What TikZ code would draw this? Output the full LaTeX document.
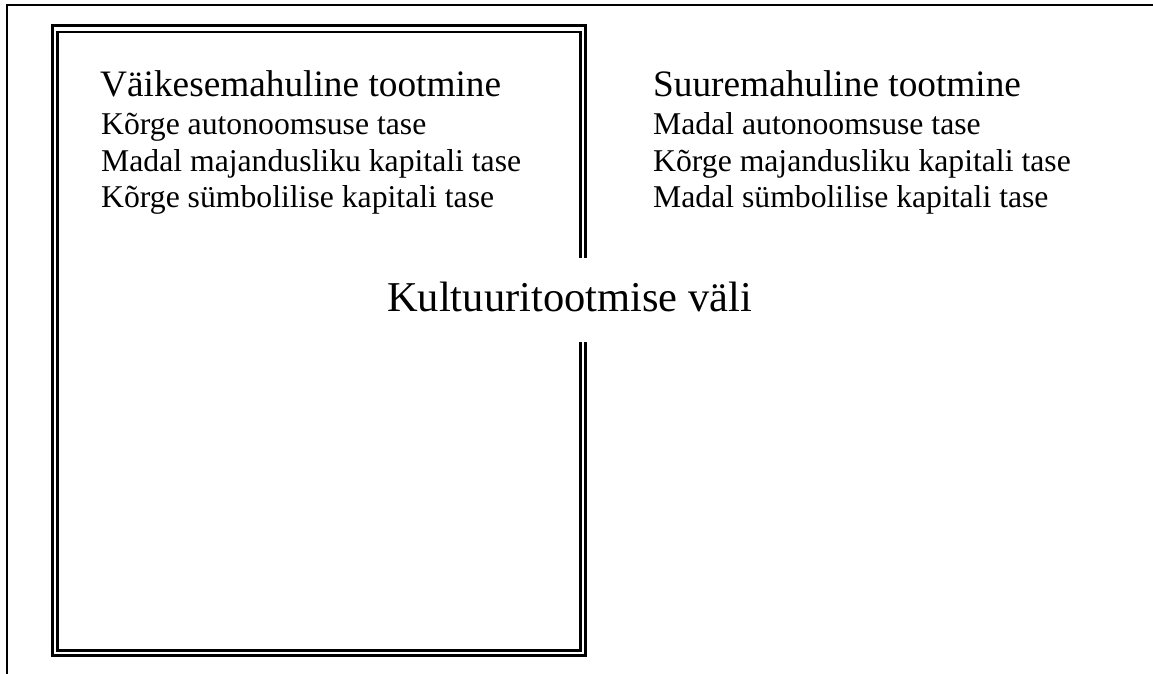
\documentclass[tikz,border=0pt]{standalone}
\usepackage{fontspec}
\setmainfont{Liberation Serif}
\begin{document}
\begin{tikzpicture}[x=1pt,y=-1pt,
  framel/.style={line width=2pt,line cap=rect},
  outerdbl/.style={line width=3pt},
  innerdbl/.style={line width=2.5pt},
  heading/.style={anchor=base west,inner sep=0pt,font=\fontsize{37.3}{40}\selectfont},
  bodyline/.style={anchor=base west,inner sep=0pt,font=\fontsize{31.7}{36}\selectfont},
  centrelabel/.style={anchor=base west,inner sep=0pt,fill=white,text height=53pt,text depth=31pt,font=\fontsize{42.5}{46}\selectfont}]
\useasboundingbox (0,0) rectangle (1153,674);
% outer page frame (left and top only visible)
\coordinate (fbl) at (7,676);
\coordinate (ftl) at (7,5);
\coordinate (ftr) at (1155,5);
\draw[framel] (fbl) -- (ftl) -- (ftr);
% double frame
\coordinate (o1) at (52.5,25.8);
\coordinate (o2) at (585.5,655);
\coordinate (i1) at (57.5,32.2);
\coordinate (i2) at (580.3,650.7);
\draw[outerdbl] (o1) rectangle (o2);
\draw[innerdbl] (i1) rectangle (i2);
% left column
\node[heading] (lh) at (100,97) {Väikesemahuline tootmine};
\node[bodyline] (l1) at (101,135) {Kõrge autonoomsuse tase};
\node[bodyline] (l2) at (101,171) {Madal majandusliku kapitali tase};
\node[bodyline] (l3) at (101,207) {Kõrge sümbolilise kapitali tase};
% right column
\node[heading] (rh) at (653,97) {Suuremahuline tootmine};
\node[bodyline] (r1) at (653,135) {Madal autonoomsuse tase};
\node[bodyline] (r2) at (653,171) {Kõrge majandusliku kapitali tase};
\node[bodyline] (r3) at (653,207) {Madal sümbolilise kapitali tase};
% centre label
\node[centrelabel] (c) at (387,311) {Kultuuritootmise väli};
\end{tikzpicture}
\end{document}
